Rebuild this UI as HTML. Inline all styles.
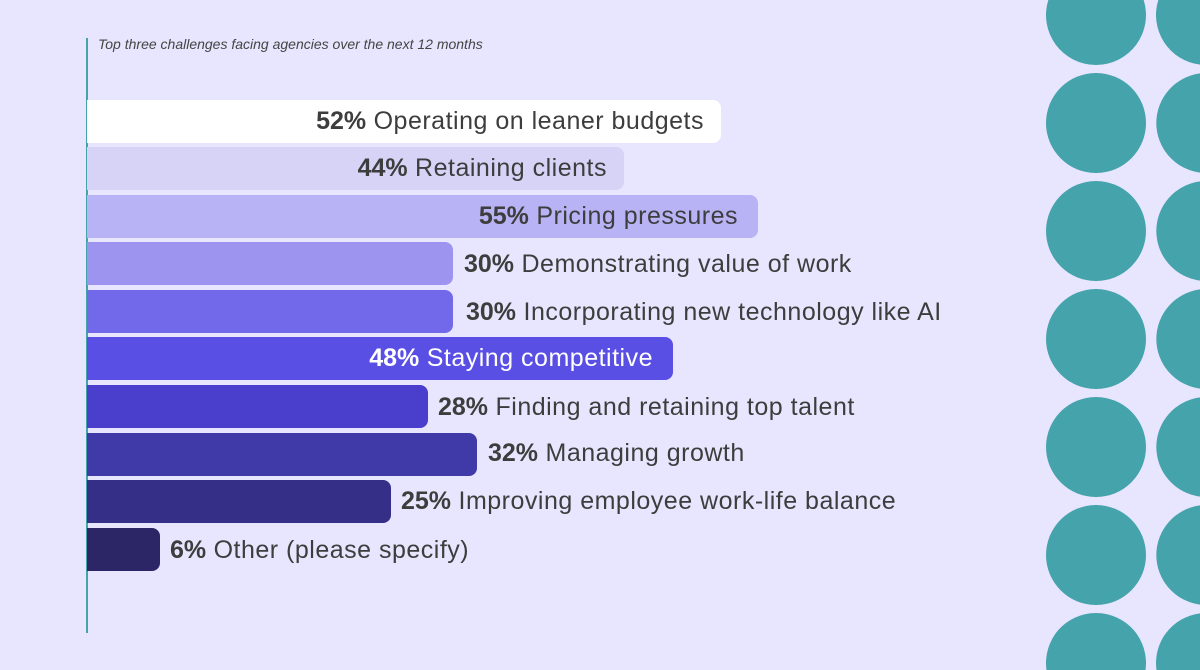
<!DOCTYPE html>
<html style="overflow:hidden"><head><meta charset="utf-8"><style>
html,body{margin:0;width:1200px;height:670px;overflow:hidden}
body{background:#e8e6fe;position:relative;font-family:"Liberation Sans",sans-serif}
.bar{position:absolute;left:87px;height:43px;border-radius:0 8px 8px 0}
.t{position:absolute;height:43px;line-height:43px;font-size:25px;color:#3d3d3d;white-space:nowrap;letter-spacing:0.5px}
.t b{font-weight:bold;letter-spacing:0}
.in{text-align:right}
</style></head><body>
<div style="position:absolute;left:86px;top:38px;width:2px;height:595px;background:#45a3ab"></div>
<div style="position:absolute;left:98px;top:36px;font-size:14px;font-style:italic;color:#444">Top three challenges facing agencies over the next 12 months</div>

<div class="bar" style="top:100px;width:634px;background:#ffffff"></div>
<div class="t in" style="top:100px;right:496px"><b>52%</b> Operating on leaner budgets</div>
<div class="bar" style="top:147px;width:537px;background:#d6d3f7"></div>
<div class="t in" style="top:147px;right:593px"><b>44%</b> Retaining clients</div>
<div class="bar" style="top:195px;width:671px;background:#b8b3f5"></div>
<div class="t in" style="top:195px;right:462px"><b>55%</b> Pricing pressures</div>
<div class="bar" style="top:242px;width:366px;background:#9c94ee"></div>
<div class="t" style="top:243px;left:464px"><b>30%</b> Demonstrating value of work</div>
<div class="bar" style="top:290px;width:366px;background:#7268ea"></div>
<div class="t" style="top:291px;left:466px"><b>30%</b> Incorporating new technology like AI</div>
<div class="bar" style="top:337px;width:586px;background:#5a4fe5"></div>
<div class="t in" style="top:337px;right:547px;color:#fff"><b>48%</b> Staying competitive</div>
<div class="bar" style="top:385px;width:341px;background:#4a3fcd"></div>
<div class="t" style="top:386px;left:438px"><b>28%</b> Finding and retaining top talent</div>
<div class="bar" style="top:433px;width:390px;background:#403aa8"></div>
<div class="t" style="top:432px;left:488px"><b>32%</b> Managing growth</div>
<div class="bar" style="top:480px;width:304px;background:#352f88"></div>
<div class="t" style="top:480px;left:401px"><b>25%</b> Improving employee work-life balance</div>
<div class="bar" style="top:528px;width:73px;background:#2c2667"></div>
<div class="t" style="top:529px;left:170px"><b>6%</b> Other (please specify)</div>

<svg style="position:absolute;left:1030px;top:0;display:block" width="170" height="670" viewBox="1030 0 170 670">
<g fill="#45a3ab">
<path d="M1048.3,0 A50 50 0 1 0 1143.7,0 Z"/>
<path d="M1158.3,0 A50 50 0 0 0 1200,64.6 L1200,0 Z"/>
<circle cx="1096" cy="123" r="50"/>
<circle cx="1096" cy="231" r="50"/>
<circle cx="1096" cy="339" r="50"/>
<circle cx="1096" cy="447" r="50"/>
<circle cx="1096" cy="555" r="50"/>
<path d="M1200,73.4 A50 50 0 0 0 1200,172.6 Z"/>
<path d="M1200,181.4 A50 50 0 0 0 1200,280.6 Z"/>
<path d="M1200,289.4 A50 50 0 0 0 1200,388.6 Z"/>
<path d="M1200,397.4 A50 50 0 0 0 1200,496.6 Z"/>
<path d="M1200,505.4 A50 50 0 0 0 1200,604.6 Z"/>
<path d="M1046.5,670 A50 50 0 1 1 1145.5,670 Z"/>
<path d="M1200,613.4 A50 50 0 0 0 1156.5,670 L1200,670 Z"/>
</g>
</svg>
</body></html>
